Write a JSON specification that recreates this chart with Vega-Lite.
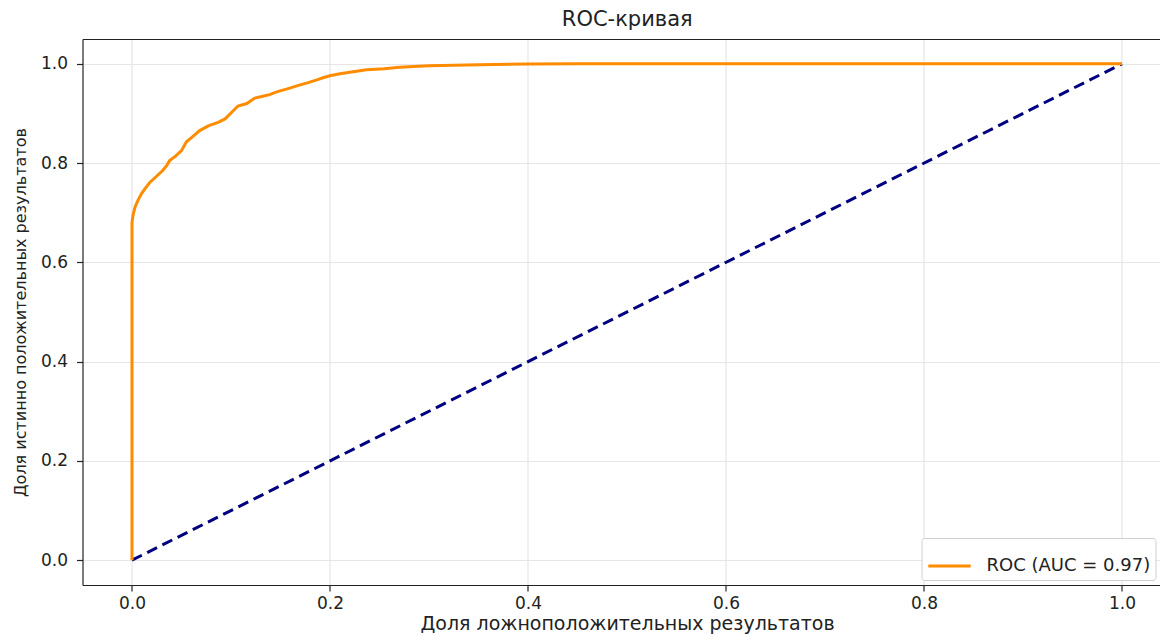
{
  "$schema": "https://vega.github.io/schema/vega-lite/v6.json",
  "autosize": "none",
  "width": 1077.5,
  "height": 546,
  "padding": {"left": 82.5, "top": 39, "right": 0, "bottom": 51},
  "background": "white",
  "config": {
    "view": {"stroke": null},
    "font": "DejaVu Sans",
    "axis": {
      "labelFont": "DejaVu Sans",
      "titleFont": "DejaVu Sans",
      "labelColor": "#222",
      "titleColor": "#222",
      "titleFontWeight": "normal",
      "domainColor": "#222",
      "domainWidth": 1.2,
      "tickColor": "#222",
      "tickSize": 6,
      "tickWidth": 1.2,
      "gridColor": "#e6e6e6",
      "gridWidth": 1.2
    },
    "legend": {
      "labelFont": "DejaVu Sans"
    }
  },
  "title": {
    "text": "ROC-кривая",
    "font": "DejaVu Sans",
    "fontSize": 21,
    "fontWeight": "normal",
    "color": "#222",
    "anchor": "middle",
    "dx": 6,
    "offset": 9
  },
  "datasets": {
    "roc": [
      {"fpr": 0, "tpr": 0},
      {"fpr": 0, "tpr": 0.68},
      {"fpr": 0.001, "tpr": 0.695},
      {"fpr": 0.003, "tpr": 0.711},
      {"fpr": 0.006, "tpr": 0.725},
      {"fpr": 0.0095, "tpr": 0.738},
      {"fpr": 0.013, "tpr": 0.748},
      {"fpr": 0.018, "tpr": 0.761},
      {"fpr": 0.024, "tpr": 0.772},
      {"fpr": 0.031, "tpr": 0.785},
      {"fpr": 0.035, "tpr": 0.795},
      {"fpr": 0.038, "tpr": 0.805},
      {"fpr": 0.044, "tpr": 0.814},
      {"fpr": 0.05, "tpr": 0.825},
      {"fpr": 0.055, "tpr": 0.843},
      {"fpr": 0.061, "tpr": 0.853},
      {"fpr": 0.068, "tpr": 0.865},
      {"fpr": 0.077, "tpr": 0.875},
      {"fpr": 0.087, "tpr": 0.882},
      {"fpr": 0.094, "tpr": 0.889},
      {"fpr": 0.1, "tpr": 0.901},
      {"fpr": 0.107, "tpr": 0.915},
      {"fpr": 0.116, "tpr": 0.92},
      {"fpr": 0.124, "tpr": 0.931},
      {"fpr": 0.131, "tpr": 0.934},
      {"fpr": 0.139, "tpr": 0.938},
      {"fpr": 0.147, "tpr": 0.944},
      {"fpr": 0.156, "tpr": 0.949},
      {"fpr": 0.169, "tpr": 0.957},
      {"fpr": 0.178, "tpr": 0.962},
      {"fpr": 0.186, "tpr": 0.967},
      {"fpr": 0.193, "tpr": 0.972},
      {"fpr": 0.2, "tpr": 0.976},
      {"fpr": 0.21, "tpr": 0.98},
      {"fpr": 0.22, "tpr": 0.983},
      {"fpr": 0.237, "tpr": 0.988},
      {"fpr": 0.255, "tpr": 0.99},
      {"fpr": 0.27, "tpr": 0.993},
      {"fpr": 0.3, "tpr": 0.996},
      {"fpr": 0.35, "tpr": 0.998},
      {"fpr": 0.4, "tpr": 0.9995},
      {"fpr": 0.45, "tpr": 1},
      {"fpr": 1, "tpr": 1}
    ],
    "diag": [
      {"fpr": 0, "tpr": 0},
      {"fpr": 1, "tpr": 1}
    ]
  },
  "resolve": {"axis": {"x": "independent"}},
  "layer": [
    {
      "data": {"name": "diag"},
      "mark": {"type": "line", "color": "#000080", "strokeWidth": 3, "strokeDash": [11, 6], "clip": true},
      "encoding": {
        "x": {
          "field": "fpr", "type": "quantitative",
          "scale": {"domain": [-0.05, 1.0384], "nice": false, "zero": false},
          "axis": {"orient": "top", "labels": false, "ticks": false, "grid": false, "title": null, "domain": true}
        },
        "y": {
          "field": "tpr", "type": "quantitative",
          "scale": {"domain": [-0.05, 1.05], "nice": false, "zero": false}
        }
      }
    },
    {
      "data": {"name": "roc"},
      "transform": [{"calculate": "'ROC (AUC = 0.97)'", "as": "series"}],
      "mark": {"type": "line", "strokeWidth": 3, "clip": true},
      "encoding": {
        "x": {
          "field": "fpr", "type": "quantitative",
          "axis": {
            "orient": "bottom",
            "values": [0, 0.2, 0.4, 0.6, 0.8, 1.0],
            "format": ".1f",
            "labelFontSize": 17,
            "labelPadding": 4,
            "title": "Доля ложноположительных результатов",
            "titleFontSize": 19,
            "titlePadding": 3,
            "titleX": 544.5,
            "grid": true
          }
        },
        "y": {
          "field": "tpr", "type": "quantitative",
          "axis": {
            "values": [0, 0.2, 0.4, 0.6, 0.8, 1.0],
            "format": ".1f",
            "labelFontSize": 17,
            "labelPadding": 9,
            "title": "Доля истинно положительных результатов",
            "titleFontSize": 16,
            "titlePadding": 12,
            "grid": true
          }
        },
        "order": [{"field": "fpr"}, {"field": "tpr"}],
        "color": {
          "field": "series", "type": "nominal",
          "scale": {"range": ["#ff8c00"]},
          "legend": {
            "title": null,
            "orient": "bottom-right",
            "offset": 5,
            "fillColor": "white",
            "strokeColor": "#d0d0d0",
            "cornerRadius": 3,
            "padding": 5,
            "symbolType": "stroke",
            "symbolSize": 1800,
            "symbolStrokeWidth": 3,
            "labelOffset": 14,
            "labelFontSize": 18,
            "labelLimit": 400,
            "labelColor": "#222"
          }
        }
      }
    }
  ]
}
